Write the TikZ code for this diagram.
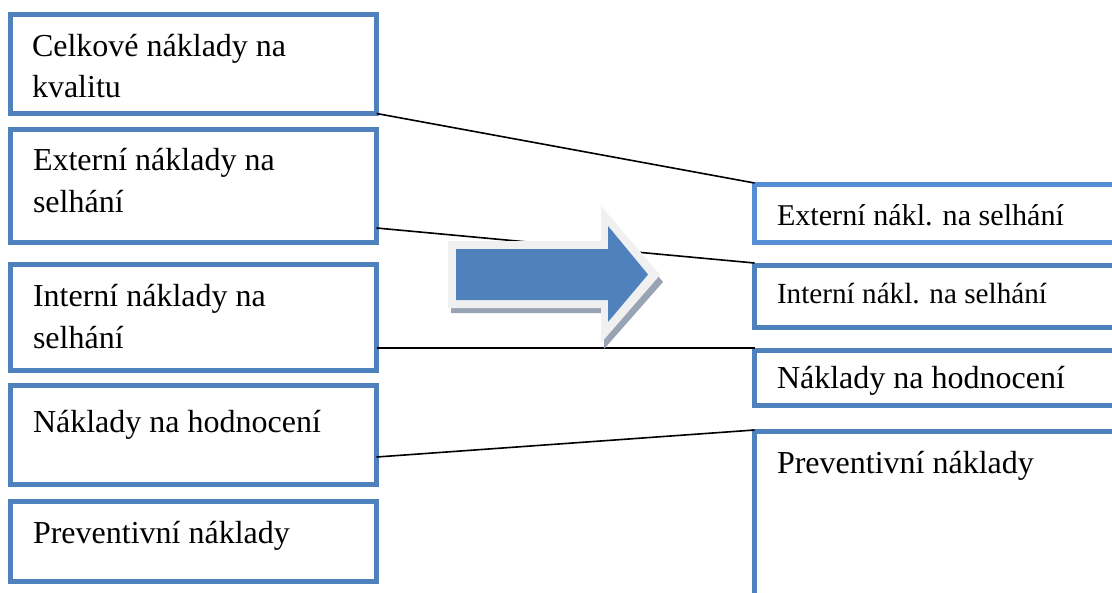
\documentclass[tikz,border=0pt]{standalone}
\usepackage{fontspec}
\setmainfont{Liberation Serif}
\usetikzlibrary{calc}
\definecolor{boxblue}{HTML}{4F81BD}
\definecolor{boxblueA}{HTML}{558ED5}
\definecolor{arrowrim}{HTML}{F0F0F0}
\definecolor{arrowshade}{HTML}{98A3B4}
\tikzset{
  box/.style={draw=boxblue, line width=3.75pt, inner sep=0pt, outer sep=0pt,
              anchor=north west, fill=white},
  lbox/.style={box, minimum width=274.5pt},
  rbox/.style={box, minimum width=281.6pt},
  txt/.style={anchor=base west, inner sep=0pt, outer sep=0pt, align=left,
              font=\fontsize{24}{31.5}\selectfont},
  link/.style={draw=black, line width=1.2pt},
}
\begin{document}
\begin{tikzpicture}[x=0.75pt,y=-0.75pt]
\useasboundingbox (0,0) rectangle (1112,592);
\clip (0,0) rectangle (1112,592);
\fill[white] (0,0) rectangle (1112,592);

% left column
\node[lbox, minimum height=74.25pt] (l1) at (10.5,14.5) {};
\node[lbox, minimum height=84.75pt] (l2) at (10.5,129.5) {};
\node[lbox, minimum height=79.5pt]  (l3) at (10.5,264.5) {};
\node[lbox, minimum height=74.25pt] (l4) at (10.5,385.5) {};
\node[lbox, minimum height=60pt]    (l5) at (10.5,501.5) {};

% right column (runs off the right and bottom edges)
\node[rbox, draw=boxblueA, minimum height=43.5pt] (r1) at (754.5,184.5) {};
\node[rbox, minimum height=46.5pt]  (r2) at (754.5,265.5) {};
\node[rbox, minimum height=41.25pt] (r3) at (754.5,350.5) {};
\node[rbox, minimum height=150pt]   (r4) at (754.5,431.5) {};

% labels (two-line labels are placed by the baseline of their last line)
\node[txt] (t1) at ($(l1.north west)+(21.5,83.5)$) {Celkové náklady na\\kvalitu};
\node[txt] (t2) at ($(l2.north west)+(22.5,82.5)$) {Externí náklady na\\selhání};
\node[txt] (t3) at ($(l3.north west)+(22.5,83.5)$) {Interní náklady na\\selhání};
\node[txt] (t4) at ($(l4.north west)+(22.5,46.5)$) {Náklady na hodnocení};
\node[txt] (t5) at ($(l5.north west)+(22.5,41.5)$) {Preventivní náklady};

\node[txt, font=\fontsize{22.6}{28}\selectfont] (u1) at ($(r1.north west)+(22.5,40.5)$) {Externí nákl. na selhání};
\node[txt, font=\fontsize{21.9}{28}\selectfont] (u2) at ($(r2.north west)+(22.5,37.5)$) {Interní nákl. na selhání};
\node[txt] (u3) at ($(r3.north west)+(22.5,37.5)$) {Náklady na hodnocení};
\node[txt] (u4) at ($(r4.north west)+(22.5,41.5)$) {Preventivní náklady};

% connectors
\draw[link] (l1.south east) -- ($(r1.north west)+(0,-1.5)$);
\draw[link] ($(l2.south east)+(0,-14.5)$) -- ($(r2.north west)+(0,-2.5)$);
\draw[link] ($(l3.south east)+(0,-22.5)$) -- ($(r3.north west)+(0,-2.5)$);
\draw[link] ($(l4.south east)+(0,-27.5)$) -- ($(r4.north west)+(0,-1.5)$);

% block arrow: shadow, light rim, blue body
\fill[arrowshade] (451,246) -- (604,246) -- (604,211) -- (663,282) -- (604,349) -- (604,313) -- (451,313) -- cycle;
\fill[arrowrim] (448,241) -- (601,241) -- (601,206) -- (660,275) -- (601,343) -- (601,308) -- (448,308) -- cycle;
\fill[boxblue] (456,249) -- (608,249) -- (608,226) -- (648,274.5) -- (608,322) -- (608,300) -- (456,300) -- cycle;
\end{tikzpicture}
\end{document}
